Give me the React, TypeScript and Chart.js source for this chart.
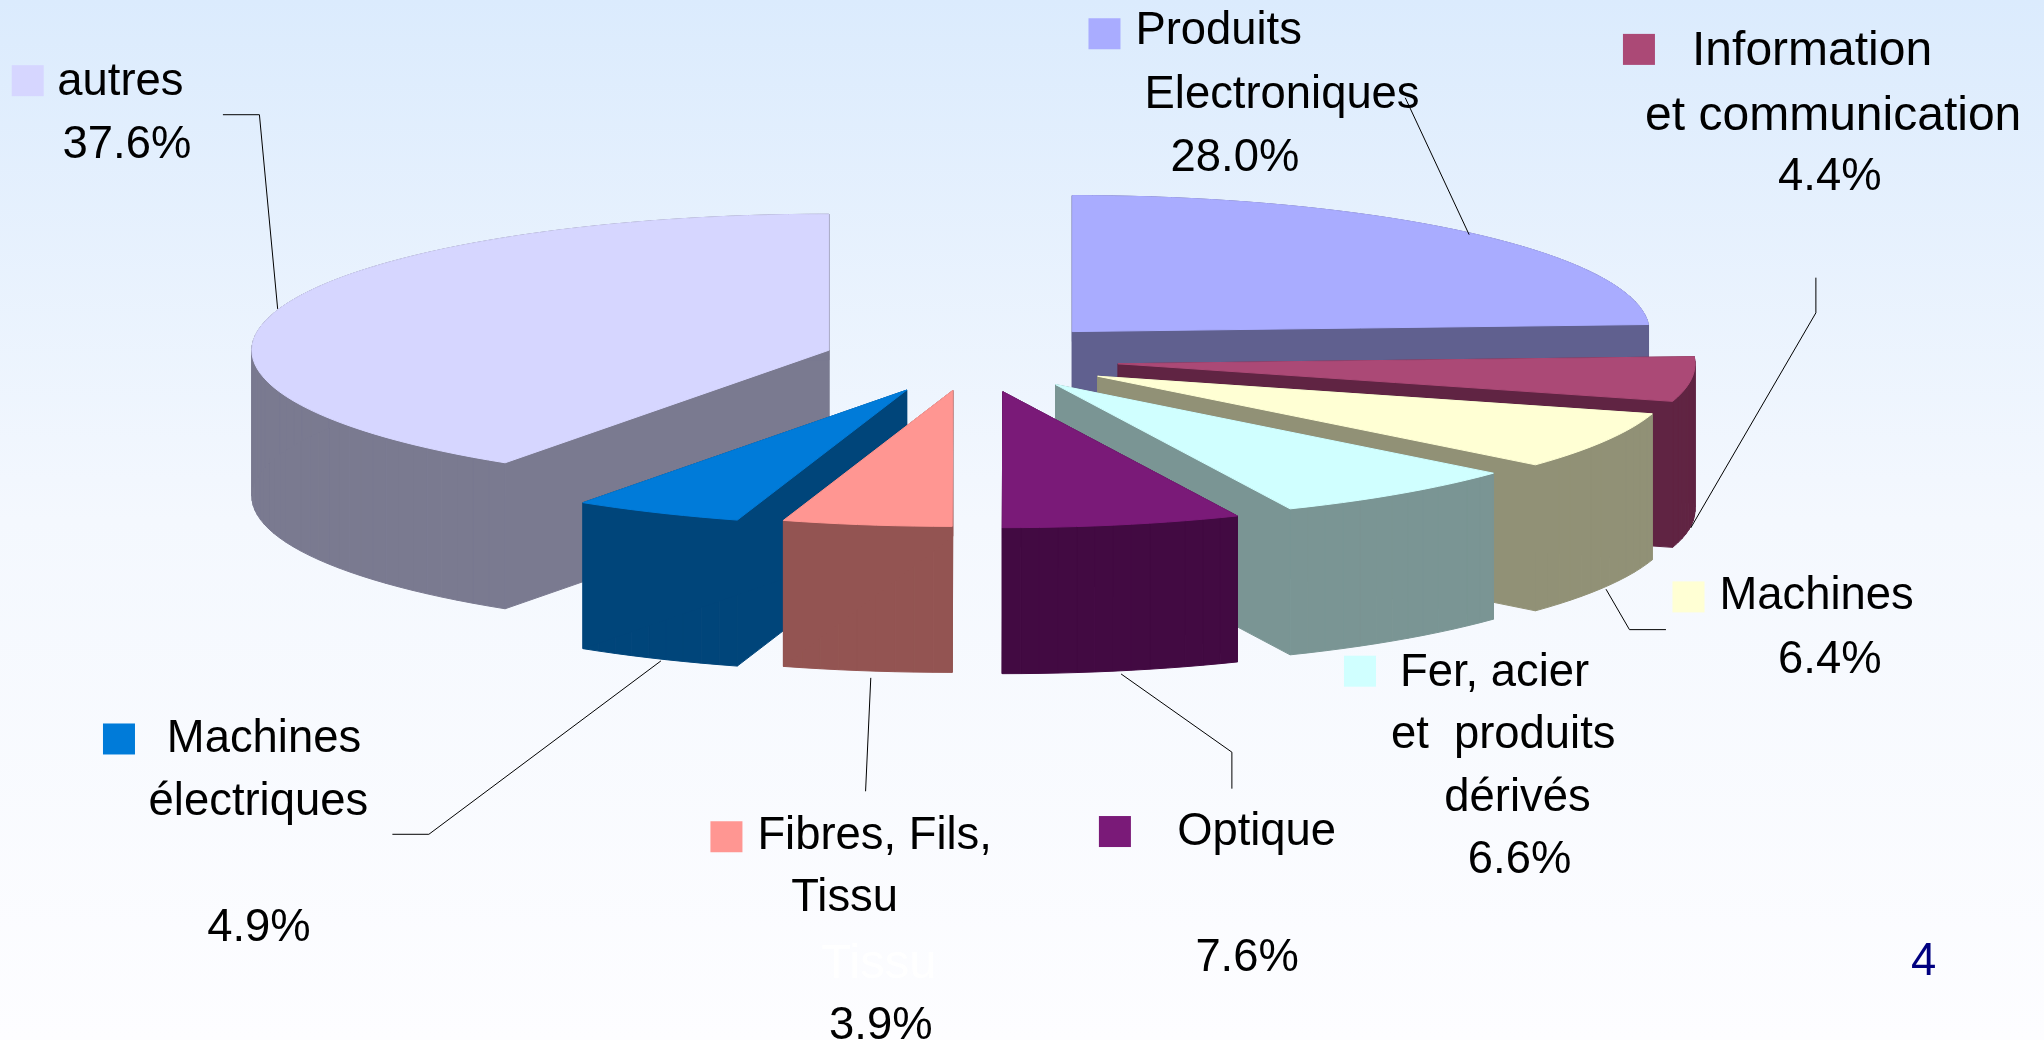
import React, { useEffect, useRef } from "react";
import { Chart, registerables } from "chart.js";

Chart.register(...registerables);

// ---- data ----
const categories = [
  "Produits Electroniques",
  "Information et communication",
  "Machines",
  "Fer, acier et produits dérivés",
  "Optique",
  "Fibres, Fils, Tissu",
  "Machines électriques",
  "autres",
];
const shares = [28.0, 4.4, 6.4, 6.6, 7.6, 3.9, 4.9, 37.6];

// ---- style ----
const topColors = ["#a9acff", "#ab4976", "#ffffd4", "#d0ffff", "#7a1a78", "#ff9692", "#007bd9", "#d6d6ff"];
const wallColors = ["#60608f", "#602443", "#919176", "#7a9594", "#420a42", "#935452", "#00457a", "#7a7a90"];
const explode = [137, 141, 136, 130, 120, 169, 165, 156];
const settle = [-6, -1, 0, -1, 3, -10, -6, 0];
const paintOrder = [0, 7, 1, 2, 3, 6, 5, 4];

const RX = 577;
const RY = 136;
const DEPTH = 146;
// the 3D view compresses angles: [angle on the pie, angle on the screen]
const viewAngles = [[0, 0], [101.4, 87], [117.3, 106], [164.4, 156], [191.9, 180], [206, 197], [223.7, 214], [360, 360]];

const S = 2044 / 1568; // label layout below was measured on the 1568 wide view
const FONT_FAMILY = '"Liberation Sans", Arial, sans-serif';
const FONT_SIZE = 45.4;
const labelFontSizes = [FONT_SIZE, 48, FONT_SIZE, FONT_SIZE, FONT_SIZE, FONT_SIZE, FONT_SIZE, FONT_SIZE];

const labelLayout = [
  { key: [835, 14], lines: [["Produits", 871, 34], ["Electroniques", 878, 83], ["%", 898, 131]], leader: [[1078, 75], [1127, 180]] },
  { key: [1245, 26], lines: [["Information", 1298, 50], ["et communication", 1262, 100], ["%", 1364, 146]], leader: [[1393, 213], [1393, 240], [1297, 405]] },
  { key: [1283, 446], lines: [["Machines", 1319, 467], ["%", 1364, 516]], leader: [[1232, 452], [1250, 483], [1278, 483]] },
  { key: [1031, 503], lines: [["Fer, acier", 1074, 526], ["et  produits", 1067, 574], ["dérivés", 1108, 622], ["%", 1126, 670]], leader: [] },
  { key: [843, 626], lines: [["Optique", 903, 648], ["%", 917, 745]], leader: [[860, 517], [945, 577], [945, 605]] },
  { key: [545, 630], lines: [["Fibres, Fils,", 581, 651], ["Tissu", 607, 699], ["%", 636, 797]], leader: [[668, 520], [664, 607]] },
  { key: [79, 555], lines: [["Machines", 128, 577], ["électriques", 114, 625], ["%", 159, 722]], leader: [[507, 507], [329, 640], [301, 640]] },
  { key: [9, 50], lines: [["autres", 44, 73], ["%", 48, 121]], leader: [[171, 88], [199, 88], [213, 237]] },
];
const ghostText = ["Tissu", 630, 750];
const pageNumber = ["4", 1466, 748];

function toScreenDeg(a: number) {
  for (let i = 1; i < viewAngles.length; i++) {
    const [a0, s0] = viewAngles[i - 1];
    const [a1, s1] = viewAngles[i];
    if (a <= a1) return s0 + ((a - a0) / (a1 - a0)) * (s1 - s0);
  }
  return a;
}

const pie3d = {
  id: "pie3d",
  beforeDatasetsDraw(chart: any) {
    const ctx = chart.ctx;
    const arcs = chart.getDatasetMeta(0).data;
    ctx.save();
    for (const i of paintOrder) {
      const arc = arcs[i];
      const startDeg = ((arc.startAngle + Math.PI / 2) * 180) / Math.PI;
      const endDeg = ((arc.endAngle + Math.PI / 2) * 180) / Math.PI;
      const s = toScreenDeg(startDeg);
      const e = toScreenDeg(endDeg);
      const mid = (((s + e) / 2) * Math.PI) / 180;
      const off = arc.options.offset;
      const ax = arc.x + off * Math.sin(mid);
      const ay = arc.y - off * (RY / RX) * Math.cos(mid) + settle[i];
      const pts: number[][] = [[ax, ay]];
      const n = Math.max(2, Math.ceil((e - s) / 2));
      for (let k = 0; k <= n; k++) {
        const t = ((s + ((e - s) * k) / n) * Math.PI) / 180;
        pts.push([ax + RX * Math.sin(t), ay - RY * Math.cos(t)]);
      }
      // walls
      ctx.fillStyle = wallColors[i];
      ctx.strokeStyle = wallColors[i];
      ctx.lineWidth = 1;
      for (let k = 0; k < pts.length; k++) {
        const p = pts[k];
        const q = pts[(k + 1) % pts.length];
        ctx.beginPath();
        ctx.moveTo(p[0], p[1]);
        ctx.lineTo(q[0], q[1]);
        ctx.lineTo(q[0], q[1] + DEPTH);
        ctx.lineTo(p[0], p[1] + DEPTH);
        ctx.closePath();
        ctx.fill();
        ctx.stroke();
      }
      // top face
      ctx.fillStyle = topColors[i];
      ctx.strokeStyle = topColors[i];
      ctx.beginPath();
      pts.forEach((p, k) => (k ? ctx.lineTo(p[0], p[1]) : ctx.moveTo(p[0], p[1])));
      ctx.closePath();
      ctx.fill();
      ctx.stroke();
    }
    ctx.restore();
    return false;
  },
  afterDraw(chart: any) {
    const ctx = chart.ctx;
    ctx.save();
    ctx.textBaseline = "alphabetic";
    ctx.textAlign = "left";
    labelLayout.forEach((item, i) => {
      ctx.fillStyle = topColors[i];
      ctx.fillRect(item.key[0] * S, item.key[1] * S, 32, 31);
      ctx.fillStyle = "#000";
      for (const [text, x, y] of item.lines as any[]) {
        const isPercent = text === "%";
        ctx.font = `${isPercent ? FONT_SIZE : labelFontSizes[i]}px ${FONT_FAMILY}`;
        const str = isPercent ? `${shares[i].toFixed(1)}%` : text;
        ctx.fillText(str, x * S, y * S);
      }
      if (item.leader.length) {
        ctx.strokeStyle = "#000";
        ctx.lineWidth = 1;
        ctx.beginPath();
        item.leader.forEach((p, k) => (k ? ctx.lineTo(p[0] * S, p[1] * S) : ctx.moveTo(p[0] * S, p[1] * S)));
        ctx.stroke();
      }
    });
    ctx.font = `49px ${FONT_FAMILY}`;
    ctx.fillStyle = "#ffffff";
    ctx.fillText(ghostText[0] as string, (ghostText[1] as number) * S, (ghostText[2] as number) * S);
    ctx.font = `${FONT_SIZE}px ${FONT_FAMILY}`;
    ctx.fillStyle = "#000080";
    ctx.fillText(pageNumber[0] as string, (pageNumber[1] as number) * S, (pageNumber[2] as number) * S);
    ctx.restore();
  },
};

export default function App() {
  const ref = useRef<HTMLCanvasElement>(null);
  useEffect(() => {
    const chart = new Chart(ref.current as HTMLCanvasElement, {
      type: "pie",
      data: {
        labels: categories,
        datasets: [{ data: shares, backgroundColor: topColors, offset: explode, borderWidth: 0 }],
      },
      options: {
        animation: false,
        responsive: false,
        // puts the pie's centre where the reference has it
        layout: { padding: { right: 88, bottom: 318 } },
        plugins: { legend: { display: false }, tooltip: { enabled: false } },
      },
      plugins: [pie3d],
    } as any);
    return () => chart.destroy();
  }, []);
  return (
    <div
      style={{
        position: "absolute",
        left: 0,
        top: 0,
        width: 2044,
        height: 1040,
        overflow: "hidden",
        background: "linear-gradient(to bottom, #dbebfd 0%, #f4f8fe 50%, #fdfdff 100%)",
      }}
    >
      <canvas ref={ref} width={2044} height={1040} style={{ display: "block" }} />
    </div>
  );
}
